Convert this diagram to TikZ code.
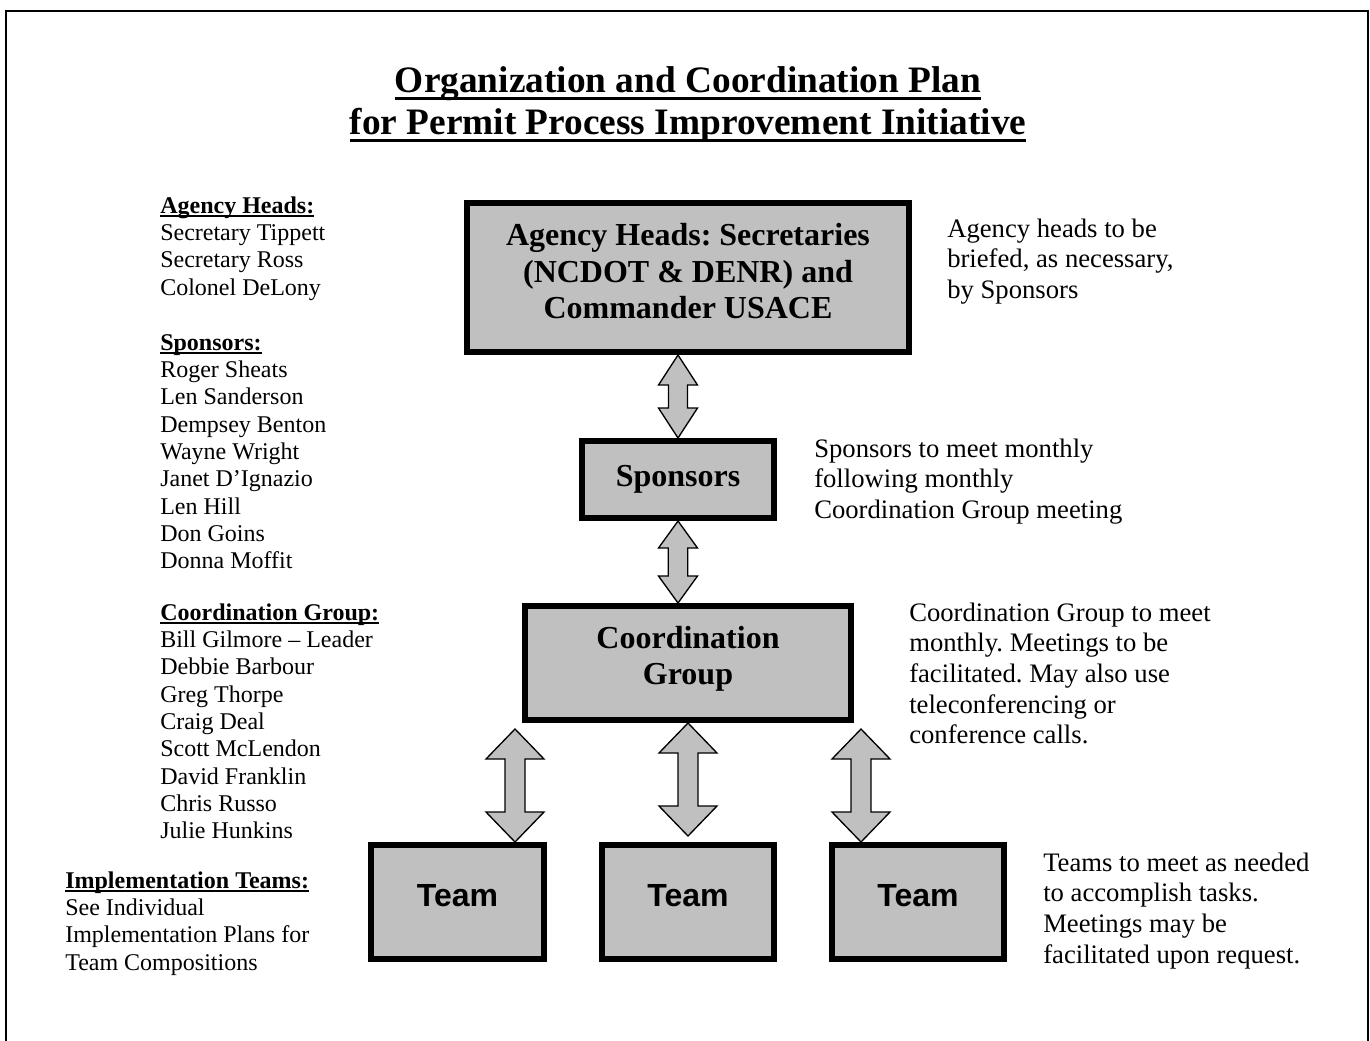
\documentclass[tikz,border=0pt]{standalone}
\usepackage{fontspec}
\setmainfont{Liberation Serif}
\setsansfont{Liberation Sans}
\usetikzlibrary{calc}
\definecolor{boxgray}{RGB}{192,192,192}
\frenchspacing
% Word-style underline: #1 raise of rule, #2 thickness, #3 text
\newcommand\wul[3]{\setbox0\hbox{#3}\rlap{\rule[#1]{\wd0}{#2}}\box0}
% box text raised by #1 without changing its size
\newcommand\boxtext[2]{\raisebox{#1}[\height][\depth]{\begin{tabular}{@{}c@{}}#2\end{tabular}}}
% double-headed block arrow: #1 top point, #2 bottom point, #3 head half width, #4 shaft half width, #5 head length (px)
\newcommand\blockarrow[5]{%
  \draw[blk] let \p1=(#1), \p2=(#2) in
  (\x1,\y1) -- (\x1+#3*0.75pt,\y1-#5*0.75pt) -- (\x1+#4*0.75pt,\y1-#5*0.75pt)
  -- (\x1+#4*0.75pt,\y2+#5*0.75pt) -- (\x1+#3*0.75pt,\y2+#5*0.75pt) -- (\x1,\y2)
  -- (\x1-#3*0.75pt,\y2+#5*0.75pt) -- (\x1-#4*0.75pt,\y2+#5*0.75pt)
  -- (\x1-#4*0.75pt,\y1-#5*0.75pt) -- (\x1-#3*0.75pt,\y1-#5*0.75pt) -- cycle;}
\begin{document}
\begin{tikzpicture}[x=0.75pt,y=-0.75pt,
  box/.style={draw=black, line width=4.5pt, fill=boxgray, inner sep=0pt, outer sep=2.25pt, align=center},
  serifbox/.style={box, font=\fontsize{24}{27.4}\selectfont\bfseries},
  teambox/.style={box, font=\fontsize{24}{28}\selectfont\sffamily\bfseries, minimum height=114*0.75pt},
  blk/.style={draw=black, line width=1pt, fill=boxgray, line join=miter},
  note/.style={inner sep=0pt, anchor=base west, font=\fontsize{20}{23}\selectfont},
  side/.style={inner sep=0pt, anchor=base west, font=\fontsize{18}{20.5}\selectfont},
  ttl/.style={inner sep=0pt, anchor=base, font=\fontsize{28}{32}\selectfont\bfseries}]
\useasboundingbox (0,0) rectangle (1370,1040);
\fill[white] (0,0) rectangle (1370,1040);
\draw[line width=1.5pt] (6,1046) -- (6,11) -- (1367.5,11) -- (1367.5,1046);

% title
\node[ttl] (t1) at (688,92) {\wul{-6pt}{1.9pt}{Organization and Coordination Plan}};
\node[ttl] (t2) at (688,134) {\wul{-6pt}{1.9pt}{for Permit Process Improvement Initiative}};

% boxes
\node[serifbox, minimum width=442*0.75pt, minimum height=149*0.75pt] (agency) at (688,277.5)
  {\boxtext{2pt}{Agency Heads: Secretaries\\(NCDOT \& DENR) and\\Commander USACE}};
\node[serifbox, minimum width=192*0.75pt, minimum height=77*0.75pt] (sponsors) at (678,479.5) {\boxtext{0.6pt}{Sponsors}};
\node[serifbox, minimum width=326*0.75pt, minimum height=114*0.75pt] (coord) at (688,663) {\boxtext{3pt}{Coordination\\Group}};
\node[teambox, minimum width=173*0.75pt] (teamL) at (457.5,902) {\boxtext{2.3pt}{Team}};
\node[teambox, minimum width=172*0.75pt] (teamM) at (688,902) {\boxtext{2.3pt}{Team}};
\node[teambox, minimum width=172*0.75pt] (teamR) at (918,902) {\boxtext{2.3pt}{Team}};

% arrows
\coordinate (a1t) at (sponsors.north |- agency.south);
\coordinate (a2b) at (sponsors.south |- coord.north);
\coordinate (mb) at (688,836);
\coordinate (lt) at (515,729);
\coordinate (lb) at (lt |- teamL.north);
\coordinate (rt) at (861,729);
\coordinate (rb) at (rt |- teamR.north);
\blockarrow{a1t}{sponsors.north}{19.5}{9.5}{30}
\blockarrow{sponsors.south}{a2b}{19.5}{9.7}{27}
\blockarrow{coord.south}{mb}{29}{10}{30}
\blockarrow{lt}{lb}{29}{10}{30}
\blockarrow{rt}{rb}{29}{10}{30}

% left column
\node[side] (lah) at (160,213) {\begin{tabular}[t]{@{}l@{}}\textbf{\wul{-3pt}{1.5pt}{Agency Heads:}}\\Secretary Tippett\\Secretary Ross\\Colonel DeLony\end{tabular}};
\node[side] (lsp) at (160,350) {\begin{tabular}[t]{@{}l@{}}\textbf{\wul{-3pt}{1.5pt}{Sponsors:}}\\Roger Sheats\\Len Sanderson\\Dempsey Benton\\Wayne Wright\\Janet D’Ignazio\\Len Hill\\Don Goins\\Donna Moffit\end{tabular}};
\node[side] (lcg) at (160,620) {\begin{tabular}[t]{@{}l@{}}\textbf{\wul{-3pt}{1.5pt}{Coordination Group:}}\\Bill Gilmore – Leader\\Debbie Barbour\\Greg Thorpe\\Craig Deal\\Scott McLendon\\David Franklin\\Chris Russo\\Julie Hunkins\end{tabular}};
\node[side] (lit) at (65,888) {\begin{tabular}[t]{@{}l@{}}\textbf{\wul{-3pt}{1.5pt}{Implementation Teams:}}\\See Individual\\Implementation Plans for\\Team Compositions\end{tabular}};

% right notes
\node[note] (nag) at (947,237) {\begin{tabular}[t]{@{}l@{}}Agency heads to be\\briefed, as necessary,\\by Sponsors\end{tabular}};
\node[note] (nsp) at (814,457) {\begin{tabular}[t]{@{}l@{}}Sponsors to meet monthly\\following monthly\\Coordination Group meeting\end{tabular}};
\node[note] (ncg) at (909,621) {\begin{tabular}[t]{@{}l@{}}Coordination Group to meet\\monthly. Meetings to be\\facilitated. May also use\\teleconferencing or\\conference calls.\end{tabular}};
\node[note] (ntm) at (1043,871) {\begin{tabular}[t]{@{}l@{}}Teams to meet as needed\\to accomplish tasks.\\Meetings may be\\facilitated upon request.\end{tabular}};
\end{tikzpicture}
\end{document}
